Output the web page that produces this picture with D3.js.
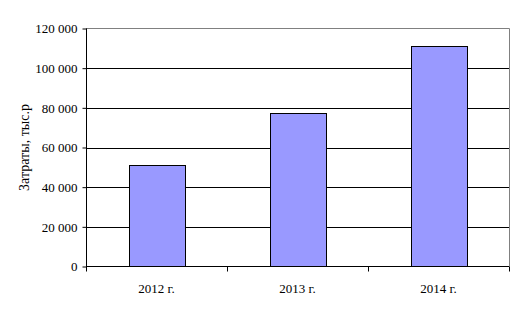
<!DOCTYPE html>
<html><head><meta charset="utf-8">
<script src="https://cdn.jsdelivr.net/npm/d3@7"></script>
<style>body{margin:0;background:#fff}svg{display:block}svg text{font-family:"Liberation Serif","Times New Roman","DejaVu Serif",serif !important;fill:#000}</style>
</head><body>
<svg id="c" width="520" height="317"></svg>
<script>
const categories = ["2012 г.", "2013 г.", "2014 г."];
const values = [51400, 77600, 111400];
const yTicks = [0, 20000, 40000, 60000, 80000, 100000, 120000];
const yTitle = "Затраты, тыс.р";

const FONT = "'Liberation Serif', 'Times New Roman', 'DejaVu Serif', serif";
const svg = d3.select("#c");
const L = 86, R = 509, T = 28.5, B = 266.5;
const x = d3.scaleBand().domain(categories).range([L, R]).paddingInner(0.603).paddingOuter(0.3015);
const y = d3.scaleLinear().domain([0, 120000]).range([B, T]);
const fmt = v => d3.format(",")(v).replace(/,/g, " ");

// gridlines
svg.append("g").selectAll("line").data(yTicks.filter(d => d > 0 && d < 120000)).join("line")
  .attr("x1", L).attr("x2", R).attr("y1", d => Math.round(y(d)) + 0.5).attr("y2", d => Math.round(y(d)) + 0.5)
  .attr("stroke", "#000").attr("stroke-width", 1);
// plot border top/right gray
svg.append("path").attr("d", `M${L},${T}H${R + 0.5}V${B}`).attr("fill", "none").attr("stroke", "#808080");

// bars
svg.append("g").selectAll("rect").data(values).join("rect")
  .attr("x", (d, i) => Math.round(x(categories[i])) + 0.5)
  .attr("y", d => Math.round(y(d)) + 0.5)
  .attr("width", Math.round(x.bandwidth()))
  .attr("height", d => B - Math.round(y(d)) - 0.5)
  .attr("fill", "#9999FF").attr("stroke", "#000").attr("stroke-width", 1);

// y axis
const ya = svg.append("g").attr("transform", `translate(${L + 0.5},0)`)
  .call(d3.axisLeft(y).tickValues(yTicks).tickFormat(fmt).tickSize(4).tickPadding(5));
ya.attr("font-family", FONT).attr("font-size", 13);
ya.select(".domain").attr("stroke", "#000").attr("d", `M0,${T}V${B}`);
ya.selectAll(".tick line").attr("stroke", "#000");
ya.selectAll(".tick text").style("font-family", FONT).style("font-size", "13px").attr("fill", "#000");

// x axis
const xa = svg.append("g").attr("transform", `translate(0,${B})`)
  .call(d3.axisBottom(x).tickSize(0).tickPadding(17));
xa.attr("font-family", FONT).attr("font-size", 13);
xa.select(".domain").attr("stroke", "#000").attr("d", `M${L},0H${R}`);
xa.selectAll(".tick text").style("font-family", FONT).style("font-size", "13px").attr("fill", "#000");
// category boundary ticks
const bounds = categories.map(c => x(c) - x.step() * x.paddingInner() / 2).concat([R]);
svg.append("g").selectAll("line").data(bounds).join("line")
  .attr("x1", d => Math.round(d) + 0.5).attr("x2", d => Math.round(d) + 0.5)
  .attr("y1", B).attr("y2", B + 5).attr("stroke", "#000");

// y title
svg.append("text").attr("transform", `translate(29,${(T + B) / 2}) rotate(-90)`)
  .attr("text-anchor", "middle").style("font-family", FONT).style("font-size", "14px").text(yTitle);
</script>
</body></html>
